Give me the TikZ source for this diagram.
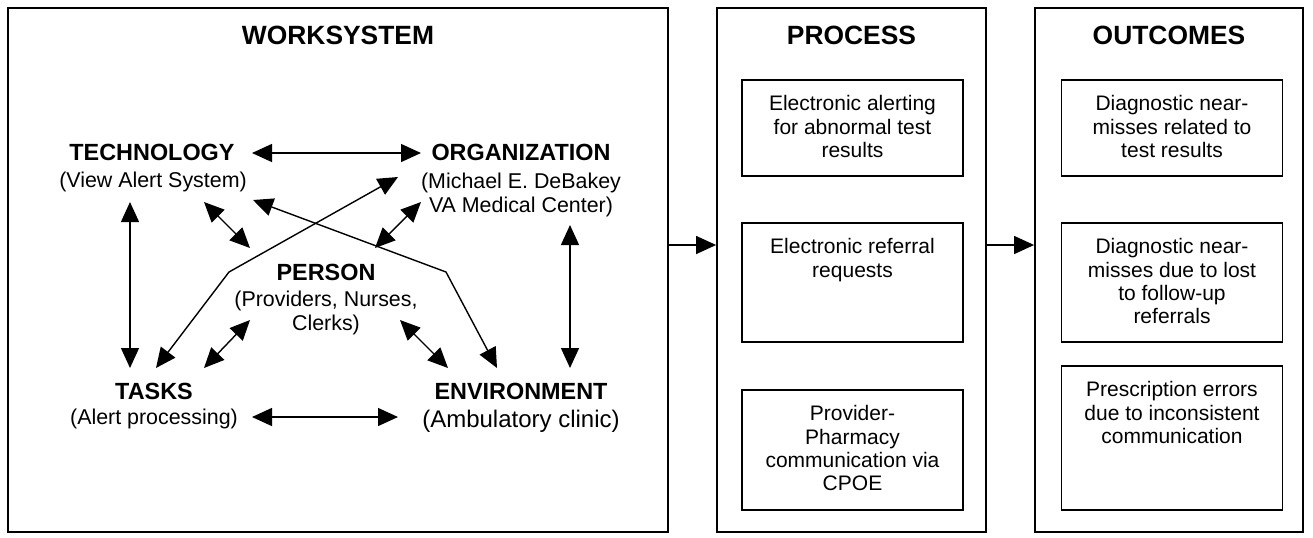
\documentclass[tikz,border=0pt]{standalone}
\usepackage{fontspec}
\setmainfont{Liberation Sans}
\usetikzlibrary{arrows.meta,calc}

\tikzset{
  heading/.style={font=\fontsize{13.2}{15}\selectfont\bfseries},
  elem/.style={font=\fontsize{11.7}{14}\selectfont\bfseries},
  elemsub/.style={font=\fontsize{10.7}{12}\selectfont, align=center},
  bigbox/.style={draw, line width=0.9pt, minimum height=262pt},
  itembox/.style={draw, line width=0.9pt, minimum width=110.5pt},
  itemtext/.style={font=\fontsize{10.5}{11.7}\selectfont, align=center, inner sep=0pt, anchor=north, yshift=-8pt},
  link/.style={line width=0.7pt, {Triangle[length=10pt,width=9pt]}-{Triangle[length=10pt,width=9pt]}},
  flow/.style={line width=0.7pt, -{Triangle[length=10pt,width=9pt]}},
}

\begin{document}
\begin{tikzpicture}[x=0.5pt, y=-0.5pt]
  \useasboundingbox (0,0) rectangle (1313,537);

  % three columns
  \node[bigbox, minimum width=330pt] (ws) at (338,270) {};
  \node[bigbox, minimum width=134.5pt] (proc) at (851.5,270) {};
  \node[bigbox, minimum width=134pt] (outc) at (1169,270) {};
  \node[heading] (wshead) at (338,35) {WORKSYSTEM};
  \node[heading] (prochead) at (851.5,35) {PROCESS};
  \node[heading] (outchead) at (1169,35) {OUTCOMES};

  % work system elements
  \node[elem] (tech) at (152,152) {TECHNOLOGY};
  \node[elemsub] (techsub) at (153,182) {(View Alert System)};
  \node[elem] (org) at (521,152) {ORGANIZATION};
  \node[elemsub] (orgsub) at (521,195) {(Michael E. DeBakey\\VA Medical Center)};
  \node[elem] (person) at (326,272) {PERSON};
  \node[elemsub] (personsub) at (326,313) {(Providers, Nurses,\\Clerks)};
  \node[elem] (tasks) at (154,391) {TASKS};
  \node[elemsub] (taskssub) at (154,419) {(Alert processing)};
  \node[elem] (env) at (521,391) {ENVIRONMENT};
  \node[elemsub, font=\fontsize{12}{14}\selectfont] (envsub) at (521,421) {(Ambulatory clinic)};

  % interactions
  \draw[link] ($(tech)+(100,1)$) -- ($(org)+(-100,1)$);
  \draw[link] ($(techsub)+(-23,20)$) -- ($(tasks)+(-24,-23)$);
  \draw[link] ($(orgsub)+(49,30)$) -- ($(env)+(49,-23)$);
  \draw[link] ($(techsub)+(51,20)$) -- ($(person)+(-76,-24)$);
  \draw[link] ($(orgsub)+(-100,7)$) -- ($(person)+(49,-24)$);
  \draw[link] ($(personsub)+(-76,7)$) -- ($(tasks)+(50,-23)$);
  \draw[link] ($(personsub)+(74,7)$) -- ($(env)+(-73,-23)$);
  \draw[link] ($(taskssub)+(98,-2)$) -- ($(envsub)+(-123,-4)$);
  \draw[link] ($(tasks)+(2,-23)$) -- ($(person)+(-97,0)$) -- ($(orgsub)+(-123,-18)$);
  \draw[link] ($(techsub)+(100,18)$) -- ($(person)+(120,0)$) -- ($(env)+(-24,-23)$);

  % process boxes
  \node[itembox, minimum height=48pt] (p1) at (852.5,128) {};
  \node[itemtext] (p1txt) at (p1.north) {Electronic alerting\\for abnormal test\\results};
  \node[itembox, minimum height=59.5pt] (p2) at (852.5,282.5) {};
  \node[itemtext] (p2txt) at (p2.north) {Electronic referral\\requests};
  \node[itembox, minimum height=60pt] (p3) at (852.5,450) {};
  \node[itemtext] (p3txt) at (p3.north) {Provider-\\Pharmacy\\communication via\\CPOE};

  % outcome boxes
  \node[itembox, minimum height=48pt] (o1) at (1172,128) {};
  \node[itemtext] (o1txt) at (o1.north) {Diagnostic near-\\misses related to\\test results};
  \node[itembox, minimum height=59.5pt] (o2) at (1172,282.5) {};
  \node[itemtext] (o2txt) at (o2.north) {Diagnostic near-\\misses due to lost\\to follow-up\\referrals};
  \node[itembox, minimum height=72pt] (o3) at (1172,438) {};
  \node[itemtext] (o3txt) at (o3.north) {Prescription errors\\due to inconsistent\\communication};

  % flow between columns
  \draw[flow] ($(ws.east)+(0,-25)$) -- ($(proc.west)+(0,-25)$);
  \draw[flow] ($(proc.east)+(0,-25)$) -- ($(outc.west)+(0,-25)$);
\end{tikzpicture}
\end{document}
